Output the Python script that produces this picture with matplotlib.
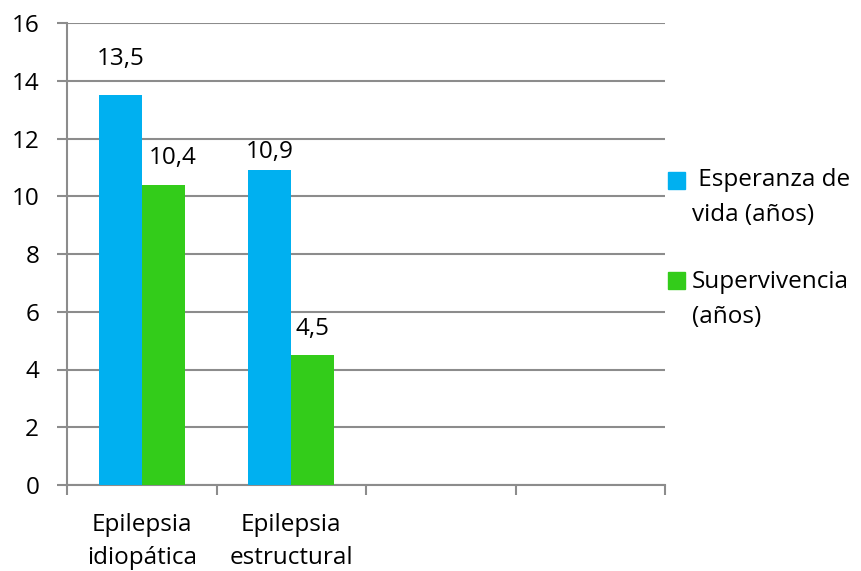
import numpy as np
import matplotlib
matplotlib.use("Agg")
import matplotlib.pyplot as plt
from matplotlib.patches import Rectangle

plt.rcParams['font.family'] = ['Open Sans', 'DejaVu Sans']

# Data
categories = ["Epilepsia\nidiopática", "Epilepsia\nestructural", "", ""]
esperanza = [13.5, 10.9]
supervivencia = [10.4, 4.5]
esperanza_labels = ["13,5", "10,9"]
supervivencia_labels = ["10,4", "4,5"]
series_names = [" Esperanza de\nvida (años)", "Supervivencia\n(años)"]
y_ticks = [0, 2, 4, 6, 8, 10, 12, 14, 16]

blue = "#00b0f0"
green = "#33cc1a"
grid_gray = "#8c8c8c"
fs = 17.5

W, H = 861, 571
fig = plt.figure(figsize=(W / 100, H / 100), dpi=100)
ax = fig.add_axes([67 / W, 1 - 485 / H, (665 - 67) / W, (485 - 23) / H])

width = 0.286
x = np.arange(len(esperanza))
b1 = ax.bar(x - width / 2, esperanza, width, color=blue, zorder=3)
b2 = ax.bar(x + width / 2, supervivencia, width, color=green, zorder=3)

# value labels, offsets in points above the bar top (label centre)
offsets1 = [(0, 26), (0, 13.5)]
offsets2 = [(7, 19), (0, 18.5)]
for rect, lab, off in zip(b1, esperanza_labels, offsets1):
    ax.annotate(lab, (rect.get_x() + rect.get_width() / 2, rect.get_height()),
                xytext=off, textcoords="offset points",
                ha="center", va="center", fontsize=fs)
for rect, lab, off in zip(b2, supervivencia_labels, offsets2):
    ax.annotate(lab, (rect.get_x() + rect.get_width() / 2, rect.get_height()),
                xytext=off, textcoords="offset points",
                ha="center", va="center", fontsize=fs)

ax.set_xlim(-0.5, len(categories) - 0.5)
ax.set_ylim(0, 16)
ax.set_yticks(y_ticks)
ax.set_yticklabels([str(t) for t in y_ticks], fontsize=fs)
ax.yaxis.grid(True, color=grid_gray, linewidth=1.5, zorder=0)

ax.set_xticks(np.arange(len(categories) + 1) - 0.5)
ax.set_xticklabels([])
ax.set_xticks(np.arange(len(categories)), minor=True)
ax.set_xticklabels(categories, minor=True, fontsize=fs, linespacing=1.48)
ax.tick_params(axis="x", which="minor", length=0, pad=20.5)
ax.tick_params(axis="x", which="major", length=7.5, color=grid_gray, width=1.5)
ax.tick_params(axis="y", length=7, color=grid_gray, width=1.5, pad=13)

for s in ["top", "right"]:
    ax.spines[s].set_visible(False)
for s in ["left", "bottom"]:
    ax.spines[s].set_color(grid_gray)
    ax.spines[s].set_linewidth(1.5)

# legend drawn by hand, Excel style (square next to the first line)
leg_colors = [blue, green]
leg_y = [180, 280]
leg_text_y = [181, 283]
for name, col, yc, yt in zip(series_names, leg_colors, leg_y, leg_text_y):
    fig.patches.append(Rectangle((668 / W, 1 - (yc + 8.5) / H), 17 / W, 17 / H,
                                 transform=fig.transFigure, color=col))
    fig.text(692 / W, 1 - (yt - 13) / H, name, fontsize=fs, ha="left", va="top",
             linespacing=1.63)

fig.savefig("out.png", dpi=100)
